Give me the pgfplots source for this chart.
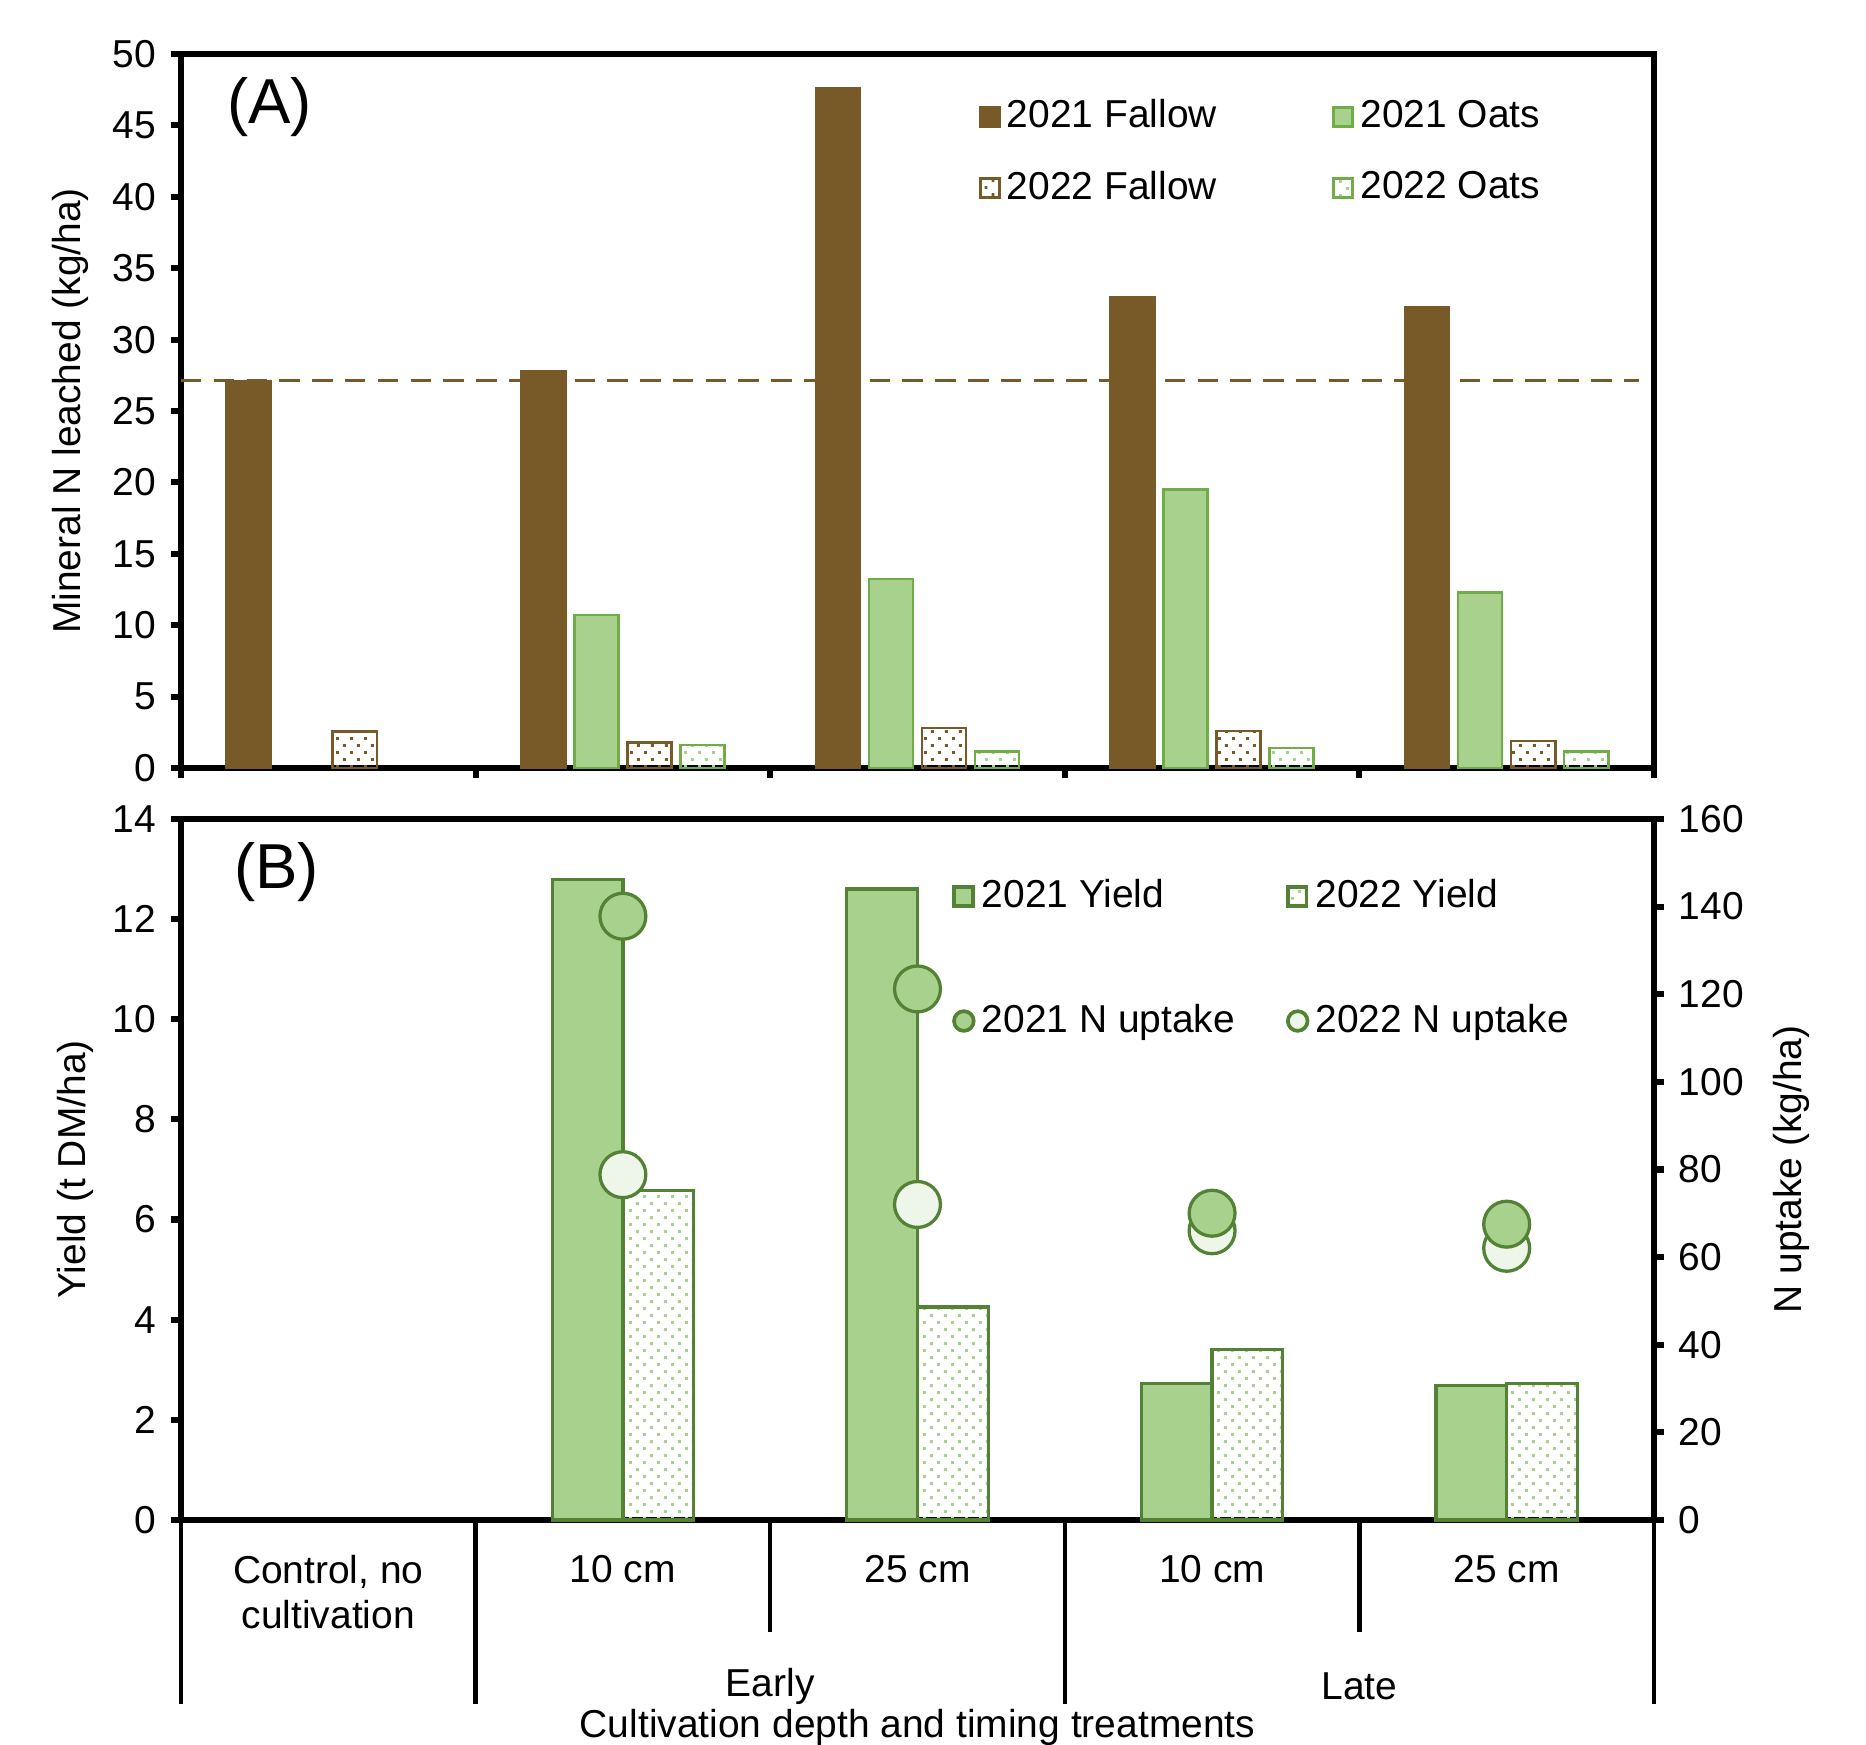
\documentclass[border=0pt]{standalone}
\usepackage{fontspec}
\setmainfont{Liberation Sans}
\usepackage{pgfplots}
\pgfplotsset{compat=1.18}
\usetikzlibrary{patterns}
\definecolor{fallow}{HTML}{785A28}
\definecolor{oatfill}{HTML}{A9D18E}
\definecolor{oatedge}{HTML}{70AD47}
\definecolor{yieldedge}{HTML}{548235}
\definecolor{paledot}{HTML}{EEF5E9}

% staggered sparse dots, like the Excel "5%" pattern
\pgfdeclarepatternformonly{sparsedots}{\pgfqpoint{0pt}{0pt}}{\pgfqpoint{3.4pt}{3.4pt}}{\pgfqpoint{3.4pt}{3.4pt}}{%
  \pgfpathrectangle{\pgfqpoint{0.5pt}{0.5pt}}{\pgfqpoint{0.7pt}{0.7pt}}%
  \pgfpathrectangle{\pgfqpoint{2.2pt}{2.2pt}}{\pgfqpoint{0.7pt}{0.7pt}}%
  \pgfusepath{fill}}

\pgfplotsset{
  sq legend/.style={legend image code/.code={\draw[##1,line width=0.8pt] (0pt,-2.3pt) rectangle (4.6pt,2.3pt);}},
  circ legend/.style={legend image code/.code={\draw[##1,line width=0.9pt] (2.4pt,0pt) circle (2.4pt);}},
  frame/.style={
    scale only axis, width=12.63cm,
    xmin=-0.5, xmax=4.5,
    tick align=outside, ytick pos=left,
    major tick length=0.09cm,
    axis line style={line width=1.5pt},
    tick style={line width=1.5pt, black},
    /pgf/number format/assume math mode=true,
    tick label style={font=\fontsize{9.5}{11}\selectfont},
    label style={font=\fontsize{9.5}{11}\selectfont},
    legend style={draw=none, fill=none, inner sep=0pt, nodes={inner sep=0.5pt},
      font=\fontsize{9.5}{11}\selectfont,
      /tikz/every odd column/.append style={column sep=1pt}},
    legend cell align=left,
    clip=false,
  },
}

\begin{document}
\begin{tikzpicture}[font=\fontsize{9.5}{11}\selectfont]
\useasboundingbox (0,0) rectangle (16cm,-14.962cm);

% ---------- (A) mineral N leached ----------
\begin{axis}[frame,
  at={(1.552cm,-6.585cm)}, anchor=south west, height=6.122cm,
  ymin=0, ymax=50, ytick={0,5,...,50},
  xtick={-0.5,0.5,...,4.5}, xticklabels={}, xtick pos=bottom,
  ylabel={Mineral N leached (kg/ha)},
  ylabel style={at={(axis description cs:-0.075,0.5)}, anchor=center},
  legend columns=2,
  legend style={at={(axis description cs:0.541,0.94)}, anchor=north west,
    row sep=8pt, /tikz/every even column/.append style={column sep=0.97cm}},
]
\addplot[ybar, bar width=0.15, bar shift=-0.27, fill=fallow, draw=fallow, line width=0.6pt, sq legend]
  coordinates {(0,27.1) (1,27.8) (2,47.6) (3,33.0) (4,32.25)};
\addlegendentry{2021 Fallow}
\addplot[ybar, bar width=0.15, bar shift=-0.09, fill=oatfill, draw=oatedge, line width=0.6pt, sq legend]
  coordinates {(1,10.7) (2,13.25) (3,19.5) (4,12.3)};
\addlegendentry{2021 Oats}
\addplot[ybar, bar width=0.15, bar shift=0.09, pattern=sparsedots, pattern color=fallow, draw=fallow, line width=0.6pt, sq legend]
  coordinates {(0,2.55) (1,1.8) (2,2.8) (3,2.6) (4,1.9)};
\addlegendentry{2022 Fallow}
\addplot[ybar, bar width=0.15, bar shift=0.27, pattern=sparsedots, pattern color=oatfill, draw=oatedge, line width=0.6pt, sq legend]
  coordinates {(1,1.6) (2,1.15) (3,1.4) (4,1.15)};
\addlegendentry{2022 Oats}
\addplot[fallow, line width=0.8pt, dash pattern=on 5pt off 3pt, forget plot]
  coordinates {(-0.5,27.15) (4.45,27.15)};
\node[font=\fontsize{15.5}{18}\selectfont] at (axis description cs:0.06,0.925) {(A)};
\end{axis}

% ---------- (B) yield, left axis ----------
\begin{axis}[frame,
  at={(1.552cm,-13.032cm)}, anchor=south west, height=6.01cm,
  ymin=0, ymax=14, ytick={0,2,...,14},
  xtick={0,...,4}, xtick style={draw=none},
  xticklabels={{Control, no\\cultivation},10 cm,25 cm,10 cm,25 cm},
  xticklabel style={align=center, anchor=north, yshift=-0.09cm},
  ylabel={Yield (t DM/ha)},
  ylabel style={at={(axis description cs:-0.072,0.5)}, anchor=center},
]
\addplot[ybar, bar width=0.24, bar shift=-0.12, fill=oatfill, draw=yieldedge, line width=0.8pt]
  coordinates {(1,12.79) (2,12.6) (3,2.73) (4,2.69)};
\addplot[ybar, bar width=0.24, bar shift=0.12, pattern=sparsedots, pattern color=oatfill, draw=yieldedge, line width=0.8pt]
  coordinates {(1,6.58) (2,4.25) (3,3.40) (4,2.73)};
% category separators below the axis
\draw[line width=1.1pt] (axis cs:-0.5,0) -- ([yshift=-1.58cm]axis cs:-0.5,0);
\draw[line width=1.1pt] (axis cs:0.5,0) -- ([yshift=-1.58cm]axis cs:0.5,0);
\draw[line width=1.1pt] (axis cs:2.5,0) -- ([yshift=-1.58cm]axis cs:2.5,0);
\draw[line width=1.1pt] (axis cs:4.5,0) -- ([yshift=-1.58cm]axis cs:4.5,0);
\draw[line width=1.1pt] (axis cs:1.5,0) -- ([yshift=-0.96cm]axis cs:1.5,0);
\draw[line width=1.1pt] (axis cs:3.5,0) -- ([yshift=-0.96cm]axis cs:3.5,0);
\node at (axis cs:1.5,0) [yshift=-1.43cm] {Early};
\node at (axis cs:3.5,0) [yshift=-1.43cm] {Late};
\node at (axis cs:2,0) [yshift=-1.78cm] {Cultivation depth and timing treatments};
\node[font=\fontsize{15.5}{18}\selectfont] at (axis description cs:0.065,0.924) {(B)};
\end{axis}

% ---------- (B) N uptake, right axis ----------
\begin{axis}[frame,
  at={(1.552cm,-13.032cm)}, anchor=south west, height=6.01cm,
  axis x line=none, axis y line*=right, ytick pos=right,
  ymin=0, ymax=160, ytick={0,20,...,160},
  ylabel={N uptake (kg/ha)},
  ylabel style={at={(axis description cs:1.093,0.5)}, anchor=center},
  legend columns=2,
  legend style={at={(axis description cs:0.523,0.918)}, anchor=north west,
    row sep=21pt, /tikz/every even column/.append style={column sep=0.42cm}},
]
\addlegendimage{sq legend, fill=oatfill, draw=yieldedge}
\addlegendentry{2021 Yield}
\addlegendimage{sq legend, pattern=sparsedots, pattern color=oatfill, draw=yieldedge}
\addlegendentry{2022 Yield}
\addlegendimage{circ legend, fill=oatfill, draw=yieldedge}
\addlegendentry{2021 N uptake}
\addlegendimage{circ legend, fill=paledot, draw=yieldedge}
\addlegendentry{2022 N uptake}
\addplot[only marks, mark=*, mark size=5.6pt, mark options={fill=paledot, draw=yieldedge, line width=0.8pt}, forget plot]
  coordinates {(1,78.8) (2,72.0) (3,66.0) (4,62.0)};
\addplot[only marks, mark=*, mark size=5.6pt, mark options={fill=oatfill, draw=yieldedge, line width=0.8pt}, forget plot]
  coordinates {(1,137.8) (2,121.2) (3,70.0) (4,67.5)};
\end{axis}
\end{tikzpicture}
\end{document}
